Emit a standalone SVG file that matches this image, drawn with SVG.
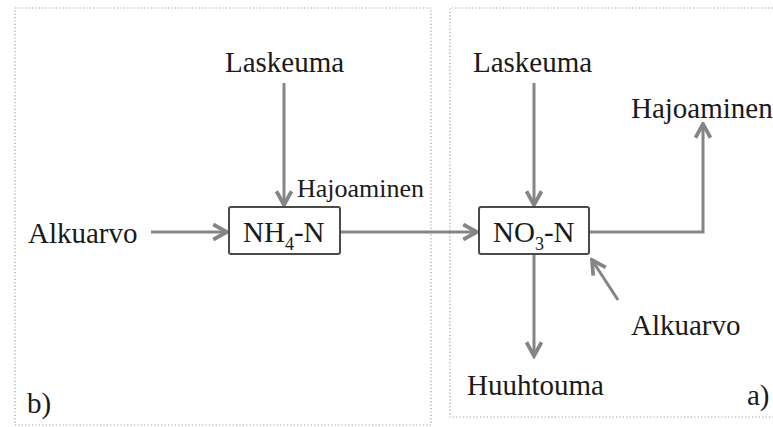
<svg xmlns="http://www.w3.org/2000/svg" width="773" height="427" viewBox="0 0 773 427">
<style>
.lbl{font-family:"Liberation Serif","Times New Roman",serif;font-size:29px;fill:#1a1a1a}
.sm{font-size:26px}
.panel{fill:none;stroke:#a0a0a0;stroke-width:1.2;stroke-dasharray:1.2 2.2}
.box{fill:#fff;stroke:#4a4a4a;stroke-width:2}
.con{fill:none;stroke:#858585;stroke-width:3;marker-end:url(#ah)}
</style>
<defs>
<marker id="ah" markerUnits="userSpaceOnUse" markerWidth="20" markerHeight="20" viewBox="-14 -8 16 16" refX="0" refY="0" orient="auto">
<path d="M-11,-6 L0,0 L-11,6" fill="none" stroke="#858585" stroke-width="3" stroke-linejoin="miter"/>
</marker>
</defs>
<rect width="773" height="427" fill="#fff"/>
<g id="panels">
<rect class="panel" x="15" y="8" width="416" height="417"/>
<path class="panel" d="M776,8 H450 V417 H776"/>
</g>
<g id="connectors">
<line class="con" x1="284" y1="83" x2="284" y2="205"/>
<line class="con" x1="151" y1="232" x2="227" y2="232"/>
<line class="con" x1="340" y1="232" x2="477" y2="232"/>
<line class="con" x1="534" y1="83" x2="534" y2="205"/>
<polyline class="con" points="589,232 703,232 703,124"/>
<line class="con" x1="618" y1="300" x2="592" y2="260"/>
<line class="con" x1="534" y1="254" x2="534" y2="356"/>
</g>
<g id="nh4">
<rect class="box" x="229" y="207" width="111" height="47" rx="2"/>
<text class="lbl" x="243" y="242">NH<tspan font-size="18" dy="8">4</tspan><tspan dy="-8">-N</tspan></text>
</g>
<g id="no3">
<rect class="box" x="479" y="207" width="110" height="47" rx="2"/>
<text class="lbl" x="493" y="242">NO<tspan font-size="18" dy="8">3</tspan><tspan dy="-8">-N</tspan></text>
</g>
<g id="laskeuma-b"><text class="lbl" x="225" y="72">Laskeuma</text></g>
<g id="hajoaminen-b"><text class="lbl sm" x="297" y="197">Hajoaminen</text></g>
<g id="alkuarvo-b"><text class="lbl" x="28" y="243">Alkuarvo</text></g>
<g id="label-b"><text class="lbl" x="27" y="413">b)</text></g>
<g id="laskeuma-a"><text class="lbl" x="473" y="72">Laskeuma</text></g>
<g id="hajoaminen-a"><text class="lbl" x="631" y="118" font-size="27.5">Hajoaminen</text></g>
<g id="alkuarvo-a"><text class="lbl" x="631" y="335">Alkuarvo</text></g>
<g id="huuhtouma"><text class="lbl" x="467" y="395">Huuhtouma</text></g>
<g id="label-a"><text class="lbl" x="747" y="405">a)</text></g>
</svg>
